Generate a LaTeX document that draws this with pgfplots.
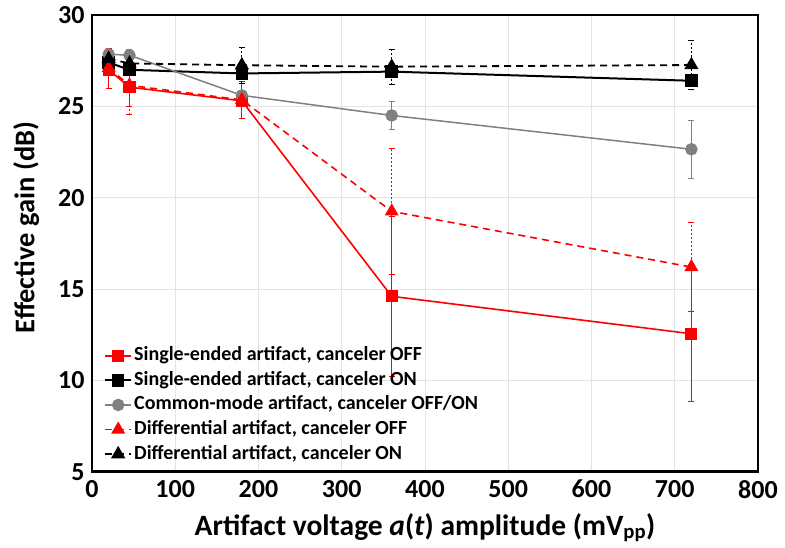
\documentclass[border=0pt]{standalone}
\usepackage{fontspec}
\setmainfont{Carlito}
\usepackage{pgfplots}
\pgfplotsset{compat=1.18}
\definecolor{cred}{RGB}{255,0,0}
\definecolor{cgray}{RGB}{128,128,128}
\definecolor{gridc}{RGB}{228,228,228}

\begin{document}
\begin{tikzpicture}
\begin{pgfinterruptboundingbox}
\begin{axis}[
    name=main,
    scale only axis,width=666pt,height=456.7pt,
    xmin=0,xmax=800,ymin=5,ymax=30,
    xtick={0,100,...,800},ytick={5,10,...,30},
    grid=major,grid style={gridc,line width=0.8pt},
    axis line style={line width=2.6pt},
    major tick length=0pt,
    tick label style={font=\fontsize{26}{28}\selectfont\bfseries},
    xticklabel style={yshift=-5pt},
    yticklabel style={xshift=-4pt},
    /pgf/number format/assume math mode=true,
    xlabel={Artifact voltage \textit{a}(\textit{t}) amplitude (mV\textsubscript{pp})},
    ylabel={Effective gain (dB)},
    label style={font=\fontsize{28.5}{30}\selectfont\bfseries},
    xlabel style={font=\fontsize{29.5}{31}\selectfont\bfseries,yshift=-8pt},
    ylabel style={at={(ticklabel cs:0.535)},yshift=12pt},
    legend style={at={(rel axis cs:0.018,0.015)},anchor=south west,
        draw=none,fill=none,font=\fontsize{20}{22}\selectfont\bfseries,
        row sep=3.6pt,column sep=1pt,inner sep=0pt,
        nodes={inner sep=1pt,text height=14.5pt,text depth=4.5pt}},
    legend cell align=left,
    legend image code/.code={\draw[mark repeat=2,mark phase=2,#1]
        plot coordinates {(0pt,0pt)(13pt,0pt)(26pt,0pt)};},
    error bars/y dir=both,error bars/y explicit,
]
% single-ended, canceler OFF
\addplot[cred,line width=1.6pt,mark=square*,mark size=5.3pt,mark options={solid},
    error bars/error bar style={cred,line width=0.7pt,solid},
    error bars/error mark options={rotate=90,mark size=3pt,line width=0.7pt}]
  coordinates {(20,27.0) +- (0,1.0) (45,26.05) +- (0,1.05) (180,25.3) +- (0,0.95)
    (360,14.6) +- (0,4.4) (720,12.55) +- (0,3.7)};
% single-ended, canceler ON
\addplot[black,line width=2pt,mark=square*,mark size=5.3pt,mark options={solid},
    error bars/error bar style={black,line width=0.7pt,solid},
    error bars/error mark options={rotate=90,mark size=3pt,line width=0.7pt}]
  coordinates {(20,27.4) +- (0,0.3) (45,27.0) +- (0,0.3) (180,26.8) +- (0,0.3)
    (360,26.9) +- (0,0.3) (720,26.4) +- (0,0.3)};
% common-mode
\addplot[cgray,line width=1.5pt,mark=*,mark size=5.5pt,mark options={solid},
    error bars/error bar style={cgray,line width=0.7pt,solid},
    error bars/error mark options={rotate=90,mark size=3pt,line width=0.7pt}]
  coordinates {(20,27.85) +- (0,0.3) (45,27.8) +- (0,0.3) (180,25.6) +- (0,0.3)
    (360,24.5) +- (0,0.77) (720,22.65) +- (0,1.6)};
% differential, canceler OFF
\addplot[cred,line width=1.6pt,dash pattern=on 7pt off 5pt,mark=triangle*,mark size=6.5pt,mark options={solid},
    error bars/error bar style={cred,line width=0.7pt,dash pattern=on 2pt off 2pt},
    error bars/error mark options={rotate=90,mark size=3pt,line width=0.7pt,solid}]
  coordinates {(20,27.1) +- (0,1.1) (45,26.15) +- (0,1.6) (180,25.35) +- (0,1.0)
    (360,19.25) +- (0,3.45) (720,16.2) +- (0,2.45)};
% differential, canceler ON
\addplot[black,line width=1.8pt,dash pattern=on 7pt off 5pt,mark=triangle*,mark size=6.5pt,mark options={solid},
    error bars/error bar style={black,line width=0.7pt,dash pattern=on 2pt off 2pt},
    error bars/error mark options={rotate=90,mark size=3pt,line width=0.7pt,solid}]
  coordinates {(20,27.6) +- (0,0.4) (45,27.35) +- (0,0.5) (180,27.25) +- (0,0.97)
    (360,27.17) +- (0,0.95) (720,27.26) +- (0,1.35)};
\legend{{Single-ended artifact, canceler OFF},{Single-ended artifact, canceler ON},
  {Common-mode artifact, canceler OFF/ON},{Differential artifact, canceler OFF},
  {Differential artifact, canceler ON}}
\end{axis}
\end{pgfinterruptboundingbox}
\path (main.south west) ++(-92pt,-76.3pt) rectangle ++(785pt,548pt);
\end{tikzpicture}
\end{document}
